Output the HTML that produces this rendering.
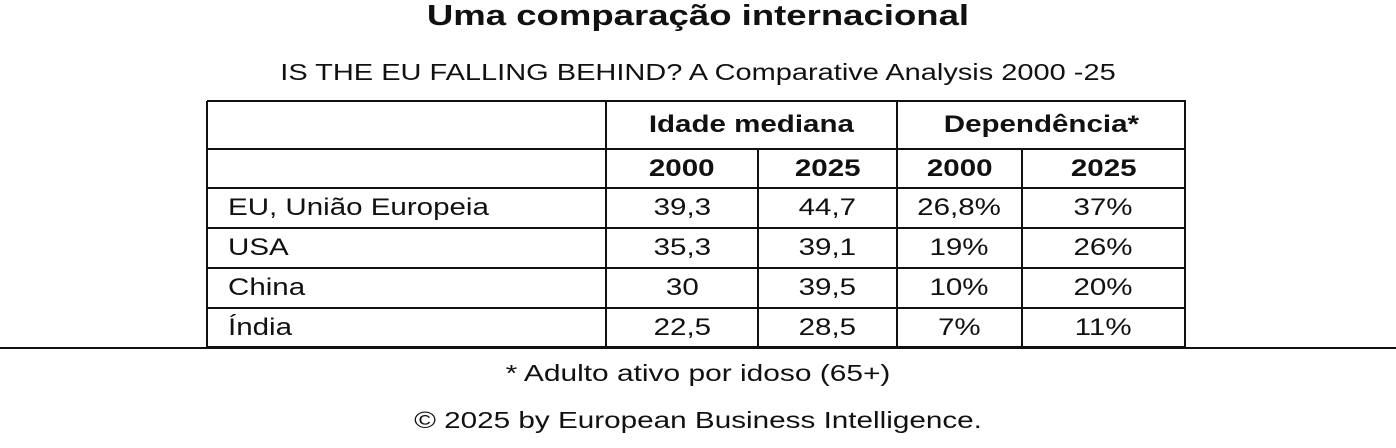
<!DOCTYPE html>
<html><head><meta charset="utf-8"><style>
body{margin:0;width:1396px;height:448px;background:#fff;position:relative;overflow:hidden;font-family:"Liberation Sans",sans-serif;color:#111}
.t{position:absolute;white-space:nowrap;transform:scaleX(1.26);transform-origin:698px 0}
.c{position:absolute;display:flex;align-items:center;justify-content:center;font-size:24px}
.c span{display:inline-block;transform:scaleX(1.23);transform-origin:center}
.l{justify-content:flex-start;padding-left:21px;box-sizing:border-box}
.l span{transform-origin:left center}
.b{font-weight:bold}
.hl{position:absolute;background:#111}
</style></head><body>
<div class="t b" style="left:0;width:1396px;text-align:center;top:0;font-size:29px">Uma comparação internacional</div>
<div class="t" style="left:0;width:1396px;text-align:center;top:59px;font-size:23px">IS THE EU FALLING BEHIND? A Comparative Analysis 2000 -25</div>
<div id="tbl"></div>
<div class="hl" style="left:0;width:1396px;top:347px;height:2px"></div>
<div class="t" style="left:0;width:1396px;text-align:center;top:360px;font-size:23px;transform:scaleX(1.3)">* Adulto ativo por idoso (65+)</div>
<div class="t" style="left:0;width:1396px;text-align:center;top:407px;font-size:23px;transform:scaleX(1.29)">© 2025 by European Business Intelligence.</div>
<script>
const countries=["EU, União Europeia","USA","China","Índia"];
const age2000=["39,3","35,3","30","22,5"];
const age2025=["44,7","39,1","39,5","28,5"];
const dep2000=["26,8%","19%","10%","7%"];
const dep2025=["37%","26%","20%","11%"];
const X=[207,606,758,897,1022,1185];
const Y=[101,149,188,228,268,308,347];
const tbl=document.getElementById('tbl');
function line(x,y,w,h,name){const d=document.createElement('div');d.className='hl';d.style.cssText=`left:${x}px;top:${y}px;width:${w}px;height:${h}px`;


tbl.appendChild(d);}
function cell(x0,x1,y0,y1,txt,cls,name){const d=document.createElement('div');d.className='c '+cls;d.style.cssText=`left:${x0}px;width:${x1-x0}px;top:${y0}px;height:${y1-y0}px`;const s=document.createElement('span');s.textContent=txt;d.appendChild(s);


tbl.appendChild(d);}
Y.forEach((y,i)=>line(X[0],y-1,X[5]-X[0]+1,2,'row-border'));
line(X[0]-1,Y[0],2,Y[6]-Y[0],'col-border');
line(X[1]-1,Y[0],2,Y[6]-Y[0],'col-border');
line(X[3]-1,Y[0],2,Y[6]-Y[0],'col-border');
line(X[5]-1,Y[0],2,Y[6]-Y[0],'col-border');
line(X[2]-1,Y[1],2,Y[6]-Y[1],'col-border');
line(X[4]-1,Y[1],2,Y[6]-Y[1],'col-border');
cell(X[1],X[3],Y[0],Y[1],'Idade mediana','b','header-idade-mediana');
cell(X[3],X[5],Y[0],Y[1],'Dependência*','b','header-dependencia');
["2000","2025","2000","2025"].forEach((t,i)=>cell(X[i+1],X[i+2],Y[1],Y[2],t,'b','year-header'));
countries.forEach((c,i)=>{
 cell(X[0],X[1],Y[i+2],Y[i+3],c,'l','country-label');
 cell(X[1],X[2],Y[i+2],Y[i+3],age2000[i],'','age-2000-cell');
 cell(X[2],X[3],Y[i+2],Y[i+3],age2025[i],'','age-2025-cell');
 cell(X[3],X[4],Y[i+2],Y[i+3],dep2000[i],'','dep-2000-cell');
 cell(X[4],X[5],Y[i+2],Y[i+3],dep2025[i],'','dep-2025-cell');
});
</script>
</body></html>
